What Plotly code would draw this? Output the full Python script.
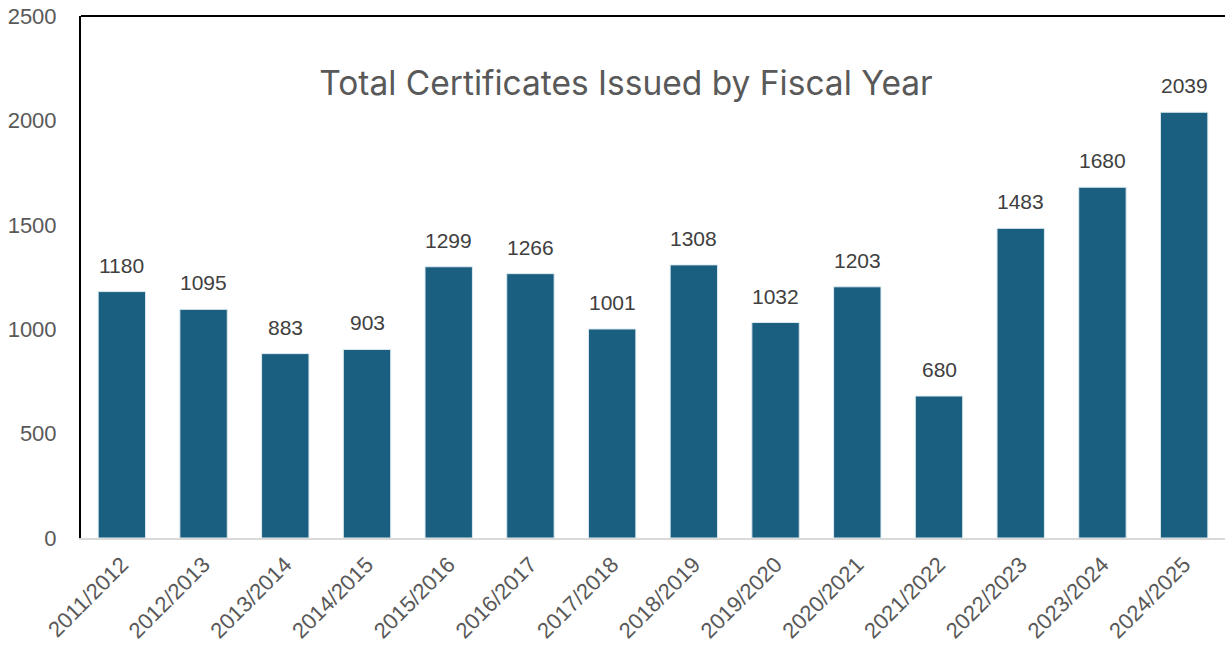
import plotly.graph_objects as go

fiscal_years = [
    "2011/2012", "2012/2013", "2013/2014", "2014/2015", "2015/2016",
    "2016/2017", "2017/2018", "2018/2019", "2019/2020", "2020/2021",
    "2021/2022", "2022/2023", "2023/2024", "2024/2025",
]
certificates = [1180, 1095, 883, 903, 1299, 1266, 1001, 1308, 1032, 1203, 680, 1483, 1680, 2039]

y_ticks = [0, 500, 1000, 1500, 2000, 2500]

bar_color = "#1A5F80"
tick_font = dict(family="Liberation Sans, Arial, sans-serif", size=22, color="#595959")

fig = go.Figure()
fig.add_trace(go.Bar(
    x=fiscal_years,
    y=certificates,
    marker=dict(color=bar_color, line=dict(color="#DDEAF0", width=1)),
    width=0.58,
    hoverinfo="x+y",
))

# value labels above each bar
for fy, v in zip(fiscal_years, certificates):
    fig.add_annotation(
        x=fy, y=v, text=str(v), showarrow=False,
        yanchor="bottom", yshift=13,
        font=dict(family="Liberation Sans, Arial, sans-serif", size=21, color="#404040"),
    )

# top border line of the plot area
fig.add_shape(type="line", xref="paper", yref="paper", x0=0, x1=1, y0=1, y1=1,
              line=dict(color="black", width=2))

fig.update_layout(
    width=1225, height=650,
    margin=dict(l=81, r=0, t=16, b=112),
    paper_bgcolor="white", plot_bgcolor="white",
    showlegend=False,
    title=dict(
        text="Total Certificates Issued by Fiscal Year",
        x=0.511, xanchor="center", y=0.872, yanchor="middle",
        font=dict(family="Inter, Lato, sans-serif", size=33.5, color="#595959"),
    ),
)
fig.update_xaxes(
    tickangle=-45, tickfont=tick_font,
    showline=True, linecolor="#D9D9D9", linewidth=2,
    showgrid=False, ticks="", ticklabelstandoff=3,
)
fig.update_yaxes(
    range=[0, 2500], tickvals=y_ticks, tickfont=tick_font,
    showline=True, linecolor="black", linewidth=2,
    showgrid=False, ticks="", ticklabelstandoff=18, zeroline=False,
)

fig.write_html("out.html")
